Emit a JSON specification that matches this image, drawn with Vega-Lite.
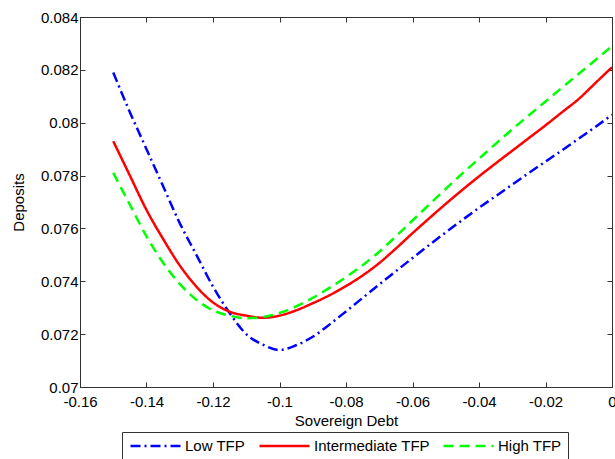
{
  "$schema": "https://vega.github.io/schema/vega-lite/v6.json",
  "width": 532,
  "height": 370,
  "autosize": "none",
  "padding": {"left": 80, "top": 17, "right": 3, "bottom": 72},
  "background": "white",
  "config": {
    "font": "Liberation Sans",
    "view": {"stroke": "#333", "strokeWidth": 1},
    "axis": {
      "grid": false,
      "domainColor": "#333",
      "tickColor": "#333",
      "tickSize": -5,
      "labelFont": "Liberation Sans",
      "labelFontSize": 15,
      "labelColor": "#000",
      "titleFont": "Liberation Sans",
      "titleFontSize": 15,
      "titleFontWeight": "normal",
      "titleColor": "#000"
    }
  },
  "data": {
    "values": [
      {"x": -0.150, "y": 0.0819, "s": "Low TFP"},
      {"x": -0.145, "y": 0.0804, "s": "Low TFP"},
      {"x": -0.140, "y": 0.0790, "s": "Low TFP"},
      {"x": -0.135, "y": 0.0776, "s": "Low TFP"},
      {"x": -0.130, "y": 0.0762, "s": "Low TFP"},
      {"x": -0.125, "y": 0.0750, "s": "Low TFP"},
      {"x": -0.120, "y": 0.0738, "s": "Low TFP"},
      {"x": -0.115, "y": 0.0728, "s": "Low TFP"},
      {"x": -0.110, "y": 0.0720, "s": "Low TFP"},
      {"x": -0.105, "y": 0.0716, "s": "Low TFP"},
      {"x": -0.100, "y": 0.0714, "s": "Low TFP"},
      {"x": -0.095, "y": 0.07158, "s": "Low TFP"},
      {"x": -0.090, "y": 0.0719, "s": "Low TFP"},
      {"x": -0.085, "y": 0.07236, "s": "Low TFP"},
      {"x": -0.080, "y": 0.07286, "s": "Low TFP"},
      {"x": -0.075, "y": 0.07337, "s": "Low TFP"},
      {"x": -0.070, "y": 0.07388, "s": "Low TFP"},
      {"x": -0.065, "y": 0.07438, "s": "Low TFP"},
      {"x": -0.060, "y": 0.07488, "s": "Low TFP"},
      {"x": -0.055, "y": 0.07537, "s": "Low TFP"},
      {"x": -0.050, "y": 0.07585, "s": "Low TFP"},
      {"x": -0.045, "y": 0.07632, "s": "Low TFP"},
      {"x": -0.040, "y": 0.07678, "s": "Low TFP"},
      {"x": -0.035, "y": 0.07722, "s": "Low TFP"},
      {"x": -0.030, "y": 0.07766, "s": "Low TFP"},
      {"x": -0.025, "y": 0.0781, "s": "Low TFP"},
      {"x": -0.020, "y": 0.07853, "s": "Low TFP"},
      {"x": -0.015, "y": 0.07896, "s": "Low TFP"},
      {"x": -0.010, "y": 0.0794, "s": "Low TFP"},
      {"x": -0.005, "y": 0.07984, "s": "Low TFP"},
      {"x": 0.000, "y": 0.0803, "s": "Low TFP"},
      {"x": -0.150, "y": 0.0793, "s": "Intermediate TFP"},
      {"x": -0.145, "y": 0.0780, "s": "Intermediate TFP"},
      {"x": -0.140, "y": 0.0767, "s": "Intermediate TFP"},
      {"x": -0.135, "y": 0.0756, "s": "Intermediate TFP"},
      {"x": -0.130, "y": 0.0746, "s": "Intermediate TFP"},
      {"x": -0.125, "y": 0.0738, "s": "Intermediate TFP"},
      {"x": -0.120, "y": 0.0732, "s": "Intermediate TFP"},
      {"x": -0.115, "y": 0.07285, "s": "Intermediate TFP"},
      {"x": -0.110, "y": 0.0727, "s": "Intermediate TFP"},
      {"x": -0.105, "y": 0.07262, "s": "Intermediate TFP"},
      {"x": -0.100, "y": 0.0727, "s": "Intermediate TFP"},
      {"x": -0.095, "y": 0.0729, "s": "Intermediate TFP"},
      {"x": -0.090, "y": 0.07317, "s": "Intermediate TFP"},
      {"x": -0.085, "y": 0.07347, "s": "Intermediate TFP"},
      {"x": -0.080, "y": 0.07382, "s": "Intermediate TFP"},
      {"x": -0.075, "y": 0.07422, "s": "Intermediate TFP"},
      {"x": -0.070, "y": 0.07469, "s": "Intermediate TFP"},
      {"x": -0.065, "y": 0.07524, "s": "Intermediate TFP"},
      {"x": -0.060, "y": 0.07582, "s": "Intermediate TFP"},
      {"x": -0.055, "y": 0.07638, "s": "Intermediate TFP"},
      {"x": -0.050, "y": 0.07693, "s": "Intermediate TFP"},
      {"x": -0.045, "y": 0.07746, "s": "Intermediate TFP"},
      {"x": -0.040, "y": 0.07797, "s": "Intermediate TFP"},
      {"x": -0.035, "y": 0.07846, "s": "Intermediate TFP"},
      {"x": -0.030, "y": 0.07894, "s": "Intermediate TFP"},
      {"x": -0.025, "y": 0.07942, "s": "Intermediate TFP"},
      {"x": -0.020, "y": 0.0799, "s": "Intermediate TFP"},
      {"x": -0.015, "y": 0.0804, "s": "Intermediate TFP"},
      {"x": -0.010, "y": 0.0809, "s": "Intermediate TFP"},
      {"x": -0.005, "y": 0.0815, "s": "Intermediate TFP"},
      {"x": 0.000, "y": 0.0821, "s": "Intermediate TFP"},
      {"x": -0.150, "y": 0.0781, "s": "High TFP"},
      {"x": -0.145, "y": 0.0769, "s": "High TFP"},
      {"x": -0.140, "y": 0.0757, "s": "High TFP"},
      {"x": -0.135, "y": 0.0747, "s": "High TFP"},
      {"x": -0.130, "y": 0.0739, "s": "High TFP"},
      {"x": -0.125, "y": 0.0733, "s": "High TFP"},
      {"x": -0.120, "y": 0.0729, "s": "High TFP"},
      {"x": -0.115, "y": 0.0727, "s": "High TFP"},
      {"x": -0.110, "y": 0.0726, "s": "High TFP"},
      {"x": -0.105, "y": 0.07265, "s": "High TFP"},
      {"x": -0.100, "y": 0.0728, "s": "High TFP"},
      {"x": -0.095, "y": 0.07305, "s": "High TFP"},
      {"x": -0.090, "y": 0.07337, "s": "High TFP"},
      {"x": -0.085, "y": 0.07375, "s": "High TFP"},
      {"x": -0.080, "y": 0.07416, "s": "High TFP"},
      {"x": -0.075, "y": 0.07461, "s": "High TFP"},
      {"x": -0.070, "y": 0.07512, "s": "High TFP"},
      {"x": -0.065, "y": 0.0757, "s": "High TFP"},
      {"x": -0.060, "y": 0.0763, "s": "High TFP"},
      {"x": -0.055, "y": 0.0769, "s": "High TFP"},
      {"x": -0.050, "y": 0.0775, "s": "High TFP"},
      {"x": -0.045, "y": 0.07808, "s": "High TFP"},
      {"x": -0.040, "y": 0.07864, "s": "High TFP"},
      {"x": -0.035, "y": 0.0792, "s": "High TFP"},
      {"x": -0.030, "y": 0.07975, "s": "High TFP"},
      {"x": -0.025, "y": 0.08028, "s": "High TFP"},
      {"x": -0.020, "y": 0.0808, "s": "High TFP"},
      {"x": -0.015, "y": 0.08133, "s": "High TFP"},
      {"x": -0.010, "y": 0.08185, "s": "High TFP"},
      {"x": -0.005, "y": 0.08237, "s": "High TFP"},
      {"x": 0.000, "y": 0.0829, "s": "High TFP"}
    ]
  },
  "layer": [
    {
      "mark": {"type": "line", "strokeWidth": 2.5, "clip": true, "interpolate": "monotone"},
      "encoding": {
        "x": {
          "field": "x", "type": "quantitative",
          "scale": {"domain": [-0.16, 0], "nice": false, "zero": false},
          "axis": {"title": "Sovereign Debt", "values": [-0.16, -0.14, -0.12, -0.1, -0.08, -0.06, -0.04, -0.02, 0], "labelExpr": "'' + datum.value", "labelPadding": 12, "titlePadding": 4, "labelFlush": false, "labelOverlap": false}
        },
        "y": {
          "field": "y", "type": "quantitative",
          "scale": {"domain": [0.07, 0.084], "nice": false, "zero": false},
          "axis": {"title": "Deposits", "values": [0.07, 0.072, 0.074, 0.076, 0.078, 0.08, 0.082, 0.084], "labelExpr": "'' + datum.value", "labelPadding": 7, "titlePadding": 14, "labelFlush": false, "labelOverlap": false}
        },
        "color": {
          "field": "s", "type": "nominal",
          "scale": {"domain": ["Low TFP", "Intermediate TFP", "High TFP"], "range": ["#0000ff", "#ff0000", "#00ff00"]},
          "legend": {
            "title": null, "orient": "none", "legendX": 42, "legendY": 415,
            "direction": "horizontal", "columns": 3,
            "strokeColor": "#333", "fillColor": "white", "padding": 6,
            "symbolType": "stroke", "symbolSize": 2500, "symbolStrokeWidth": 2.5,
            "symbolOffset": 1, "clipHeight": 16,
            "labelFontSize": 15, "labelFont": "Liberation Sans", "labelColor": "#000",
            "columnPadding": 11, "labelOffset": 3
          }
        },
        "strokeDash": {
          "field": "s", "type": "nominal",
          "scale": {"domain": ["Low TFP", "Intermediate TFP", "High TFP"], "range": [[10, 4, 2, 4], [1, 0], [10, 6]]},
          "legend": null
        }
      }
    },
    {
      "mark": {"type": "line", "opacity": 0},
      "encoding": {
        "x": {"field": "x", "type": "quantitative", "axis": {"orient": "top", "labels": false, "title": null, "values": [-0.16, -0.14, -0.12, -0.1, -0.08, -0.06, -0.04, -0.02, 0]}},
        "y": {"field": "y", "type": "quantitative", "axis": {"orient": "right", "labels": false, "title": null, "values": [0.07, 0.072, 0.074, 0.076, 0.078, 0.08, 0.082, 0.084]}},
        "detail": {"field": "s"}
      }
    }
  ],
  "resolve": {"axis": {"x": "independent", "y": "independent"}}
}
